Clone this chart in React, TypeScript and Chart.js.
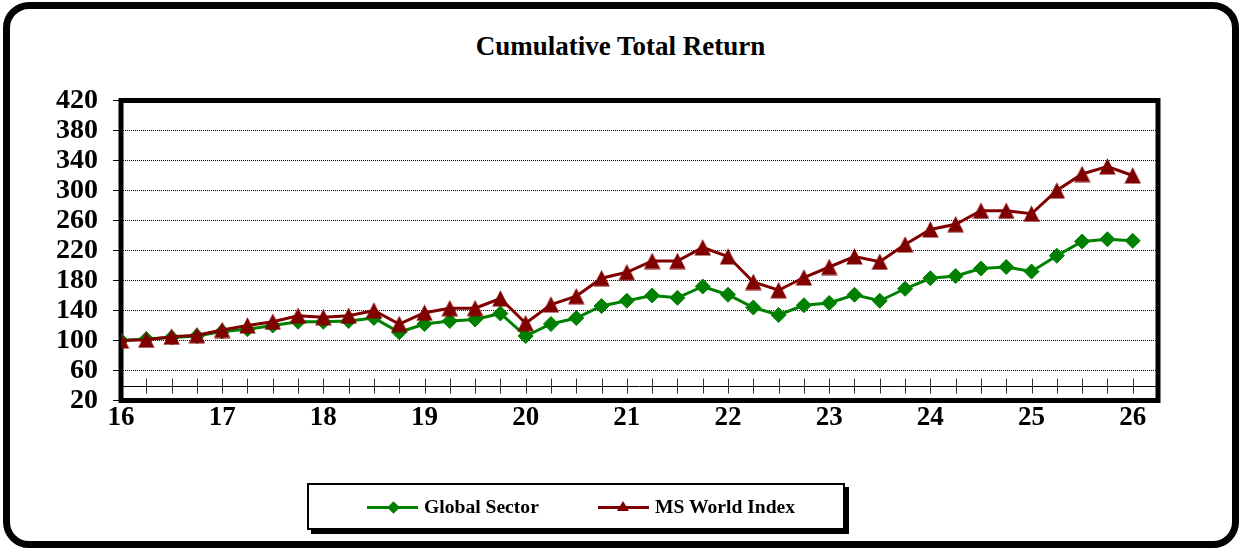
import React, { useEffect, useRef } from 'react';
import { Chart, registerables } from 'chart.js';

Chart.register(...registerables);

// ---------- data ----------
const quarters = [
  16, 16.25, 16.5, 16.75, 17, 17.25, 17.5, 17.75, 18, 18.25, 18.5, 18.75,
  19, 19.25, 19.5, 19.75, 20, 20.25, 20.5, 20.75, 21, 21.25, 21.5, 21.75,
  22, 22.25, 22.5, 22.75, 23, 23.25, 23.5, 23.75, 24, 24.25, 24.5, 24.75,
  25, 25.25, 25.5, 25.75, 26,
];

const globalSector = [
  100, 102, 104, 106, 112, 115, 120, 125, 125, 126, 130, 111,
  122, 126, 128, 136, 106, 122, 130, 146, 153, 160, 157, 172,
  161, 144, 134, 147, 150, 161, 153, 169, 183, 186, 196, 198,
  192, 213, 232, 235, 233,
];

const msWorldIndex = [
  100, 101, 105, 107, 114, 120, 125, 133, 131, 133, 140, 122,
  137, 143, 143, 156, 123, 148, 159, 183, 191, 206, 206, 224,
  212, 178, 167, 184, 198, 212, 205, 228, 248, 255, 273, 273,
  269, 300, 322, 332, 320,
];

const xTickLabels = [16, 17, 18, 19, 20, 21, 22, 23, 24, 25, 26];
const yTickLabels = [20, 60, 100, 140, 180, 220, 260, 300, 340, 380, 420];
const xMin = 16;
const xMax = 26.25;
const yMin = 20;
const yMax = 420;
const axisCrossValue = 40;

const seriesNames = ['Global Sector', 'MS World Index'];
const GREEN = '#008000';
const RED = '#800000';
const FONT = "'Liberation Serif', 'Times New Roman', serif";

function makeTriangle(size: number, color: string) {
  const c = document.createElement('canvas');
  c.width = size;
  c.height = size;
  const g = c.getContext('2d')!;
  g.fillStyle = color;
  g.beginPath();
  g.moveTo(size / 2, 0.3);
  g.lineTo(size - 0.3, size - 0.5);
  g.lineTo(0.3, size - 0.5);
  g.closePath();
  g.fill();
  return c;
}

const framePlugin = {
  id: 'plotFrame',
  beforeDatasetsDraw(chart: any) {
    const { ctx, chartArea: a, scales } = chart;
    const x = scales.x;
    const y = scales.y;
    ctx.save();
    const yc = Math.round(y.getPixelForValue(axisCrossValue)) + 0.5;
    ctx.strokeStyle = '#000';
    ctx.lineWidth = 1;
    ctx.beginPath();
    ctx.moveTo(a.left, yc);
    ctx.lineTo(a.right, yc);
    ctx.stroke();
    ctx.strokeStyle = '#333';
    ctx.beginPath();
    quarters.forEach((q, i) => {
      if (i === 0) return;
      const px = Math.round(x.getPixelForValue(q)) + 0.5;
      ctx.moveTo(px, yc - 8);
      ctx.lineTo(px, yc + 7);
    });
    ctx.stroke();
    ctx.strokeStyle = '#000';
    ctx.lineWidth = 5;
    ctx.strokeRect(a.left, a.top, a.right - a.left, a.bottom - a.top);
    ctx.restore();
  },
};

export default function App() {
  const ref = useRef<HTMLCanvasElement | null>(null);

  useEffect(() => {
    if (!ref.current) return;
    const tri = makeTriangle(17, RED);
    const yFont = { family: FONT, size: 28, weight: 'bold' as const };
    const xFont = { family: FONT, size: 27, weight: 'bold' as const };
    const chart = new Chart(ref.current, {
      type: 'line',
      data: {
        datasets: [
          {
            label: seriesNames[1],
            data: quarters.map((q, i) => ({ x: q, y: msWorldIndex[i] })),
            borderColor: RED,
            backgroundColor: RED,
            borderWidth: 3,
            pointStyle: tri as any,
            pointRadius: 8,
            order: 0,
          },
          {
            label: seriesNames[0],
            data: quarters.map((q, i) => ({ x: q, y: globalSector[i] })),
            borderColor: GREEN,
            backgroundColor: GREEN,
            borderWidth: 3,
            pointStyle: 'rectRot',
            pointRadius: 7.5,
            pointBorderWidth: 1,
            order: 1,
          },
        ],
      },
      options: {
        animation: false,
        responsive: false,
        events: [],
        layout: { padding: { left: 0, top: 100.5, right: 81, bottom: 109.5 } },
        plugins: {
          legend: { display: false },
          title: { display: false },
          tooltip: { enabled: false },
        },
        scales: {
          x: {
            type: 'linear',
            min: xMin,
            max: xMax,
            afterBuildTicks: (s: any) => {
              s.ticks = xTickLabels.map((v) => ({ value: v }));
            },
            afterFit: (s: any) => {
              s.height = 40;
            },
            grid: { drawOnChartArea: false, drawTicks: false },
            border: { display: false },
            ticks: {
              font: xFont,
              color: '#000',
              padding: 1,
              autoSkip: false,
              maxRotation: 0,
            },
          },
          y: {
            type: 'linear',
            min: yMin,
            max: yMax,
            afterBuildTicks: (s: any) => {
              s.ticks = yTickLabels.map((v) => ({ value: v }));
            },
            afterFit: (s: any) => {
              s.width = 121;
            },
            grid: {
              color: '#000',
              lineWidth: 1,
              tickColor: '#000',
              tickLength: 8,
              tickBorderDash: [],
            },
            border: { display: false, dash: [1, 1] },
            ticks: {
              font: yFont,
              color: '#000',
              padding: 15,
              autoSkip: false,
            },
          },
        },
      },
      plugins: [framePlugin],
    });
    return () => chart.destroy();
  }, []);

  const legendText: React.CSSProperties = {
    position: 'absolute',
    top: 496,
    fontFamily: FONT,
    fontWeight: 'bold',
    fontSize: 19.6,
    lineHeight: '22px',
    color: '#000',
    whiteSpace: 'nowrap',
  };

  return (
    <div
      style={{
        position: 'fixed',
        left: 0,
        top: 0,
        width: 1239,
        height: 550,
        background: '#fff',
        overflow: 'hidden',
      }}
    >
      <div
        style={{
          position: 'absolute',
          left: 3,
          top: 2,
          width: 1236,
          height: 546,
          boxSizing: 'border-box',
          border: '7px solid #000',
          borderRadius: 26,
        }}
      />
      <div
        style={{
          position: 'absolute',
          left: 0,
          top: 31,
          width: 1241,
          textAlign: 'center',
          fontFamily: FONT,
          fontWeight: 'bold',
          fontSize: 27,
          lineHeight: '30px',
          color: '#000',
        }}
      >
        Cumulative Total Return
      </div>
      <canvas
        ref={ref}
        width={1239}
        height={550}
        style={{ position: 'absolute', left: 0, top: 0 }}
      />
      <div
        style={{
          position: 'absolute',
          left: 307,
          top: 483,
          width: 538,
          height: 47,
          boxSizing: 'border-box',
          border: '2px solid #000',
          background: '#fff',
          boxShadow: '4px 4px 0 #000',
        }}
      />
      <div style={{ position: 'absolute', left: 367, top: 505.5, width: 51, height: 3, background: GREEN }} />
      <div
        style={{
          position: 'absolute',
          left: 388.5,
          top: 502.5,
          width: 9,
          height: 9,
          background: GREEN,
          transform: 'rotate(45deg)',
        }}
      />
      <div style={{ ...legendText, left: 424 }}>{seriesNames[0]}</div>
      <div style={{ position: 'absolute', left: 598, top: 505.5, width: 51, height: 3, background: RED }} />
      <div
        style={{
          position: 'absolute',
          left: 617,
          top: 501,
          width: 0,
          height: 0,
          borderLeft: '6px solid transparent',
          borderRight: '6px solid transparent',
          borderBottom: '10px solid ' + RED,
        }}
      />
      <div style={{ ...legendText, left: 655 }}>{seriesNames[1]}</div>
    </div>
  );
}
